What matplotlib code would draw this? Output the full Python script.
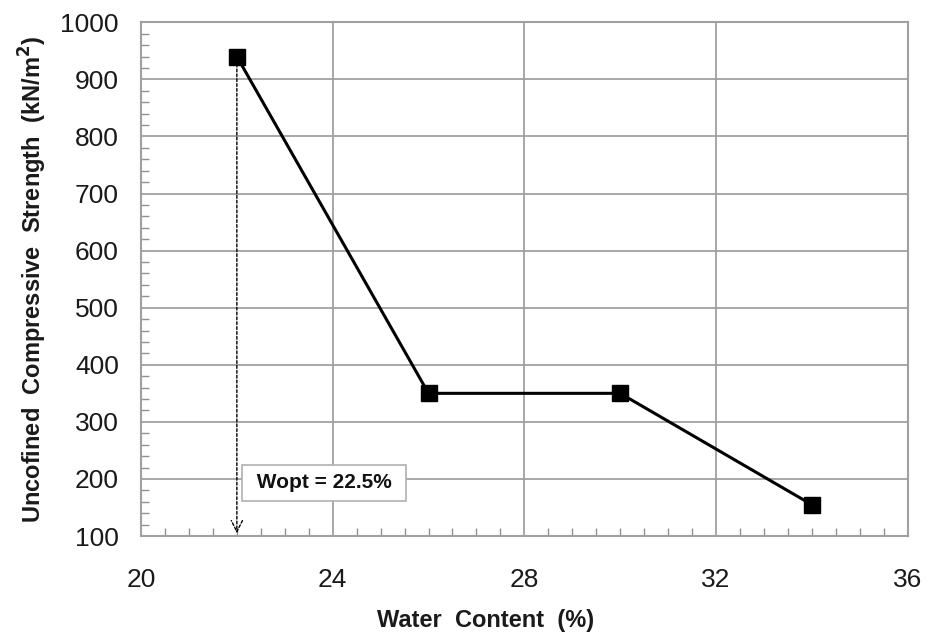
import numpy as np
import matplotlib.pyplot as plt
from matplotlib.ticker import MultipleLocator

plt.rcParams['font.family'] = ['Liberation Sans', 'DejaVu Sans']

# data
water = [22, 26, 30, 34]
strength = [940, 350, 350, 155]
wopt_x = 22
wopt_label = ' Wopt = 22.5% '

fig = plt.figure(figsize=(9.28, 6.37), dpi=100)
ax = fig.add_axes([0.152, 0.1585, 0.826, 0.8065])

ax.plot(water, strength, color='black', lw=2.2, marker='s', ms=11,
        mfc='black', mec='black', zorder=5)

# dashed drop line with arrow to the x axis
ax.annotate('', xy=(wopt_x, 100), xytext=(wopt_x, strength[0]),
            arrowprops=dict(arrowstyle='->', color='black', lw=1,
                            linestyle=(0, (2, 1.5)), mutation_scale=20),
            zorder=4)

ax.text(22.3, 193, wopt_label, fontsize=15, fontweight='bold',
        va='center', ha='left', zorder=6, color='#111111',
        bbox=dict(boxstyle='square,pad=0.42', fc='white', ec='#b0b0b0', lw=1.2))

ax.set_xlim(20, 36)
ax.set_ylim(100, 1000)
ax.xaxis.set_major_locator(MultipleLocator(4))
ax.xaxis.set_minor_locator(MultipleLocator(0.5))
ax.yaxis.set_major_locator(MultipleLocator(100))
ax.yaxis.set_minor_locator(MultipleLocator(20))

ax.grid(True, which='major', color='#a0a0a0', lw=1.3)
ax.tick_params(which='major', length=0, labelsize=19, colors='#1a1a1a')
ax.tick_params(axis='x', which='major', pad=23)
ax.tick_params(axis='y', which='major', pad=16)
ax.tick_params(which='minor', direction='in', length=6, width=1, color='#909090')

for s in ax.spines.values():
    s.set_color('#a0a0a0')
    s.set_linewidth(1.5)

ax.set_xlabel('Water  Content  (%)', fontsize=17, fontweight='bold',
              color='#1a1a1a')
ax.xaxis.set_label_coords(0.45, -0.142)
ax.set_ylabel('Uncofined  Compressive  Strength  (kN/m$^\\mathbf{2}$)', fontsize=17,
              fontweight='bold', labelpad=8, color='#1a1a1a')

fig.savefig('out.png', dpi=100)
